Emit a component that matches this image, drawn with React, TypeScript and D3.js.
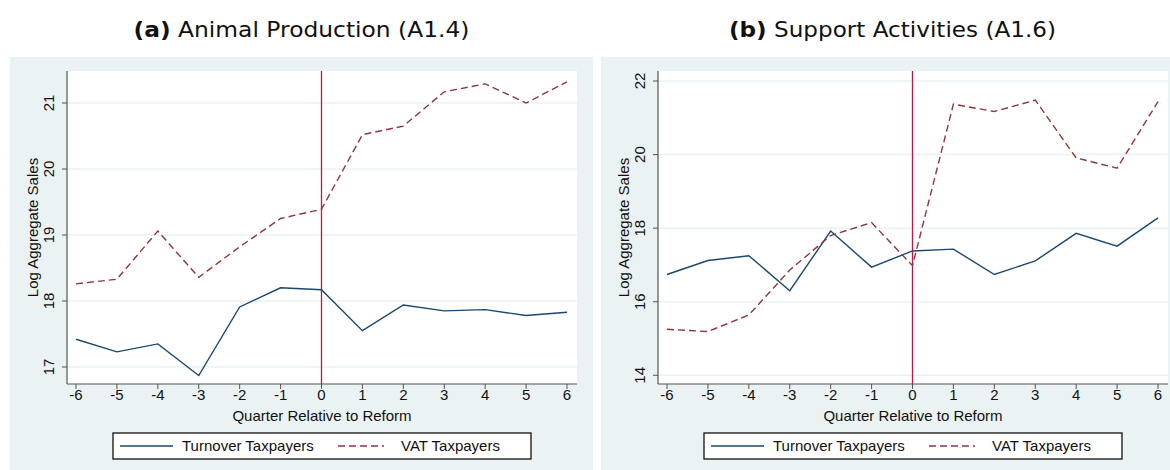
import * as d3 from "d3";

const quarters = [-6, -5, -4, -3, -2, -1, 0, 1, 2, 3, 4, 5, 6];

const animalTurnover = [17.42, 17.23, 17.35, 16.87, 17.91, 18.2, 18.17, 17.55, 17.94, 17.85, 17.87, 17.78, 17.83];
const animalVat = [18.26, 18.33, 19.06, 18.36, 18.82, 19.25, 19.39, 20.52, 20.65, 21.17, 21.29, 21.0, 21.32];

const supportTurnover = [16.74, 17.12, 17.25, 16.3, 17.92, 16.94, 17.38, 17.43, 16.74, 17.11, 17.86, 17.51, 18.28];
const supportVat = [15.25, 15.19, 15.64, 16.86, 17.8, 18.15, 16.98, 21.37, 21.17, 21.48, 19.91, 19.63, 21.44];

const animalTicks = [17, 18, 19, 20, 21];
const supportTicks = [14, 16, 18, 20, 22];

const BG = "#eaf2f3";
const BLUE = "#1a476f";
const MAROON = "#90353b";
const RED = "#c8143c";
const AXIS = "#555";
const FONT = "'Liberation Sans', Arial, sans-serif";
const TITLE_FONT = "'DejaVu Sans', sans-serif";
const FS = 15;

interface PanelProps {
  ox: number;
  letter: string;
  title: string;
  titleWidth: number;
  turnover: number[];
  vat: number[];
  yTicks: number[];
  yRange: [number, number];
}

function Panel({ ox, letter, title, titleWidth, turnover, vat, yTicks, yRange }: PanelProps) {
  const plotL = ox + 57;
  const plotR = ox + 567;
  const plotT = 71;
  const plotB = 384;

  const x = d3.scaleLinear().domain([-6, 6]).range([ox + 66, ox + 557]);
  const y = d3
    .scaleLinear()
    .domain([yTicks[0], yTicks[yTicks.length - 1]])
    .range(yRange);

  const line = d3
    .line<number>()
    .x((_, i) => x(quarters[i]))
    .y((d) => y(d));

  const legY = 446;

  return (
    <g>
      <text
        x={ox + 291.5}
        y={37}
        textAnchor="middle"
        fontFamily={TITLE_FONT}
        fontSize={21}
        fill="#111"
        textLength={titleWidth}
        lengthAdjust="spacingAndGlyphs"
      >
        <tspan fontWeight="bold">({letter})</tspan> {title}
      </text>

      <rect x={ox} y={57} width={583} height={413} fill={BG} />
      <rect x={plotL} y={plotT} width={plotR - plotL} height={plotB - plotT} fill="#fff" />

      {yTicks.map((t) => (
        <line key={"g" + t} x1={plotL} x2={plotR} y1={y(t)} y2={y(t)} stroke={BG} strokeWidth={1.5} />
      ))}

      <line x1={x(0)} x2={x(0)} y1={plotT} y2={plotB} stroke={RED} strokeWidth={1.3} />

      <path d={line(turnover) ?? ""} fill="none" stroke={BLUE} strokeWidth={1.4} />
      <path d={line(vat) ?? ""} fill="none" stroke={MAROON} strokeWidth={1.4} strokeDasharray="7,4" />

      {/* axes */}
      <line x1={plotL} x2={plotL} y1={plotT} y2={plotB} stroke={AXIS} strokeWidth={1.2} />
      <line x1={plotL} x2={plotR} y1={plotB} y2={plotB} stroke={AXIS} strokeWidth={1.2} />

      {yTicks.map((t) => (
        <g key={"y" + t}>
          <line x1={plotL - 5} x2={plotL} y1={y(t)} y2={y(t)} stroke={AXIS} strokeWidth={1} />
          <text
            transform={`translate(${plotL - 13},${y(t)}) rotate(-90)`}
            textAnchor="middle"
            fontFamily={FONT}
            fontSize={FS}
            fill="#111"
          >
            {t}
          </text>
        </g>
      ))}

      {quarters.map((q) => (
        <g key={"x" + q}>
          <line x1={x(q)} x2={x(q)} y1={plotB} y2={plotB + 5} stroke={AXIS} strokeWidth={1} />
          <text x={x(q)} y={400} textAnchor="middle" fontFamily={FONT} fontSize={FS} fill="#111">
            {q}
          </text>
        </g>
      ))}

      <text
        x={(plotL + plotR) / 2}
        y={421}
        textAnchor="middle"
        fontFamily={FONT}
        fontSize={FS}
        fill="#111"
      >
        Quarter Relative to Reform
      </text>
      <text
        transform={`translate(${ox + 28},${(plotT + plotB) / 2}) rotate(-90)`}
        textAnchor="middle"
        fontFamily={FONT}
        fontSize={FS}
        fill="#111"
      >
        Log Aggregate Sales
      </text>

      {/* legend */}
      <rect x={ox + 103} y={433} width={418} height={26} fill="#fff" stroke="#111" strokeWidth={1.3} />
      <line x1={ox + 110} x2={ox + 163} y1={legY} y2={legY} stroke={BLUE} strokeWidth={1.4} />
      <text x={ox + 172} y={legY + 5} fontFamily={FONT} fontSize={FS} fill="#111">
        Turnover Taxpayers
      </text>
      <line
        x1={ox + 328}
        x2={ox + 374}
        y1={legY}
        y2={legY}
        stroke={MAROON}
        strokeWidth={1.4}
        strokeDasharray="7,4"
      />
      <text x={ox + 391} y={legY + 5} fontFamily={FONT} fontSize={FS} fill="#111">
        VAT Taxpayers
      </text>
    </g>
  );
}

export default function App() {
  return (
    <div style={{ position: "absolute", left: 0, top: 0 }}>
      <svg width={1170} height={470} style={{ display: "block", background: "#fff" }}>
        <Panel
          ox={10}
          letter="a"
          title="Animal Production (A1.4)"
          titleWidth={336}
          turnover={animalTurnover}
          vat={animalVat}
          yTicks={animalTicks}
          yRange={[367, 103]}
        />
        <Panel
          ox={601}
          letter="b"
          title="Support Activities (A1.6)"
          titleWidth={327}
          turnover={supportTurnover}
          vat={supportVat}
          yTicks={supportTicks}
          yRange={[375.3, 81]}
        />
      </svg>
    </div>
  );
}
